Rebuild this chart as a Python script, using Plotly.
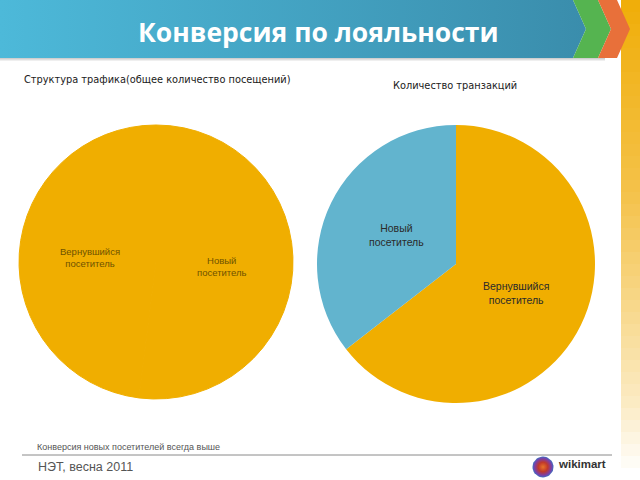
import plotly.graph_objects as go
import math

W, H = 640, 480

# ---- data ----
title_text = "Конверсия по лояльности"
left_title = "Структура трафика(общее количество посещений)"
right_title = "Количество транзакций"
left_labels = ["Новый посетитель", "Вернувшийся посетитель"]
left_values = [52, 48]
right_labels = ["Вернувшийся посетитель", "Новый посетитель"]
right_values = [64.5, 35.5]
note_text = "Конверсия новых посетителей всегда выше"
footer_text = "НЭТ, весна 2011"
logo_text = "wikimart"

ORANGE = "#F0AE00"
BLUE = "#62B4CE"

# pie placement in pixels (x0, x1, y0, y1 top-down)
left_box = (19, 293, 125, 399)
right_box = (317, 595, 125, 403)


def dom(box):
    x0, x1, y0, y1 = box
    return dict(x=[x0 / W, x1 / W], y=[1 - y1 / H, 1 - y0 / H])


def mix(c1, c2, t):
    a = [int(c1[i:i + 2], 16) for i in (1, 3, 5)]
    b = [int(c2[i:i + 2], 16) for i in (1, 3, 5)]
    return "rgb(%d,%d,%d)" % tuple(round(a[k] + (b[k] - a[k]) * t) for k in range(3))


fig = go.Figure()


def poly(xs, ys, **kw):
    fig.add_trace(go.Scatter(x=xs + [xs[0]], y=ys + [ys[0]], mode="lines", fill="toself",
                             line=dict(width=0), hoverinfo="skip", showlegend=False, **kw))


# yellow right strip, fading downwards (bands in data coords, y=0 at top)
n = 40
step = H / n
for i in range(n):
    t = i / (n - 1)
    if t < 0.4:
        col = mix("#F0AE0A", "#F4C24A", t / 0.4)
    elif t < 0.85:
        col = mix("#F4C24A", "#FBEBC4", (t - 0.4) / 0.45)
    else:
        col = mix("#FBEBC4", "#FFFFFF", (t - 0.85) / 0.15)
    poly([621, 640, 640, 621], [i * step, i * step, (i + 1) * step + 0.5, (i + 1) * step + 0.5], fillcolor=col)

# shadow under header
for i in range(4):
    poly([0, 605, 605, 0], [58 + i, 58 + i, 59 + i, 59 + i], fillcolor=mix("#CFCFCF", "#FFFFFF", i / 3))

# header band
poly([0, 573, 586, 573, 0], [0, 0, 29, 58, 58],
     fillgradient=dict(type="horizontal", colorscale=[[0, "#4DB9D9"], [1, "#3A8DAC"]]))
# green chevron
poly([573, 598, 611, 598, 573, 586], [0, 0, 29, 58, 58, 29], fillcolor="#55B450")
# orange chevron
poly([598, 617, 630, 617, 598, 611], [0, 0, 29, 58, 58, 29], fillcolor="#E8703A")
# footer line
fig.add_trace(go.Scatter(x=[22, 612], y=[455, 455], mode="lines", line=dict(color="#8A8A8A", width=1),
                         hoverinfo="skip", showlegend=False))
# logo globe
cx, cy, rr = 543, 467, 10.5
ang = [i * 2 * math.pi / 40 for i in range(40)]
poly([cx + rr * math.cos(a) for a in ang], [cy + rr * math.sin(a) for a in ang],
     fillgradient=dict(type="radial",
                       colorscale=[[0, "#E8742A"], [0.45, "#C0392B"], [0.8, "#7A3FA8"], [1, "#3F6FC0"]]))

# pies
fig.add_trace(go.Pie(labels=left_labels, values=left_values, sort=False, direction="clockwise",
                     rotation=0, marker=dict(colors=[ORANGE, ORANGE], line=dict(width=1, color=ORANGE)),
                     textinfo="none", hoverinfo="label+percent", showlegend=False, domain=dom(left_box)))
fig.add_trace(go.Pie(labels=right_labels, values=right_values, sort=False, direction="clockwise",
                     rotation=0, marker=dict(colors=[ORANGE, BLUE], line=dict(width=0)),
                     textinfo="none", hoverinfo="label+percent", showlegend=False, domain=dom(right_box)))

annotations = []


def ann(x, y, text, xanchor="center", **font):
    annotations.append(dict(x=x / W, y=1 - y / H, xref="paper", yref="paper", showarrow=False,
                            xanchor=xanchor, yanchor="middle", text=text, align="center", font=font))


def slice_labels(box, labels, values, size, color):
    x0, x1, y0, y1 = box
    pcx, pcy = (x0 + x1) / 2, (y0 + y1) / 2
    r = min(x1 - x0, y1 - y0) / 2
    tot = sum(values)
    start = 0
    for lab, v in zip(labels, values):
        mid = (start + v / 2) / tot * 2 * math.pi
        start += v
        px = pcx + 0.48 * r * math.sin(mid)
        py = pcy - 0.48 * r * math.cos(mid)
        ann(px, py, lab.replace(" ", "<br>"), family="Liberation Sans, Arial", size=size, color=color)


slice_labels(left_box, left_labels, left_values, 9.5, "#6E5200")
slice_labels(right_box, right_labels, right_values, 10.5, "#2B2B2B")

ann(318, 32, "<b>" + title_text + "</b>", family="Open Sans", size=26.5, color="white")
ann(22, 80, left_title, xanchor="left", family="DejaVu Sans", size=9.8, color="#1A1A1A")
ann(455, 85, right_title, family="DejaVu Sans", size=9.8, color="#1A1A1A")
ann(35, 447, note_text, xanchor="left", family="Liberation Sans", size=9, color="#555555")
ann(36, 467, footer_text, xanchor="left", family="Liberation Sans", size=12.5, color="#555555")
ann(556, 464, "<b>" + logo_text + "</b>", xanchor="left", family="Liberation Sans", size=11.5, color="#333333")

fig.update_layout(
    width=W, height=H, margin=dict(l=0, r=0, t=0, b=0),
    paper_bgcolor="white", plot_bgcolor="rgba(0,0,0,0)",
    xaxis=dict(range=[0, W], visible=False, fixedrange=True, domain=[0, 1]),
    yaxis=dict(range=[H, 0], visible=False, fixedrange=True, domain=[0, 1]),
    annotations=annotations, showlegend=False,
)

fig.write_html("out.html")
